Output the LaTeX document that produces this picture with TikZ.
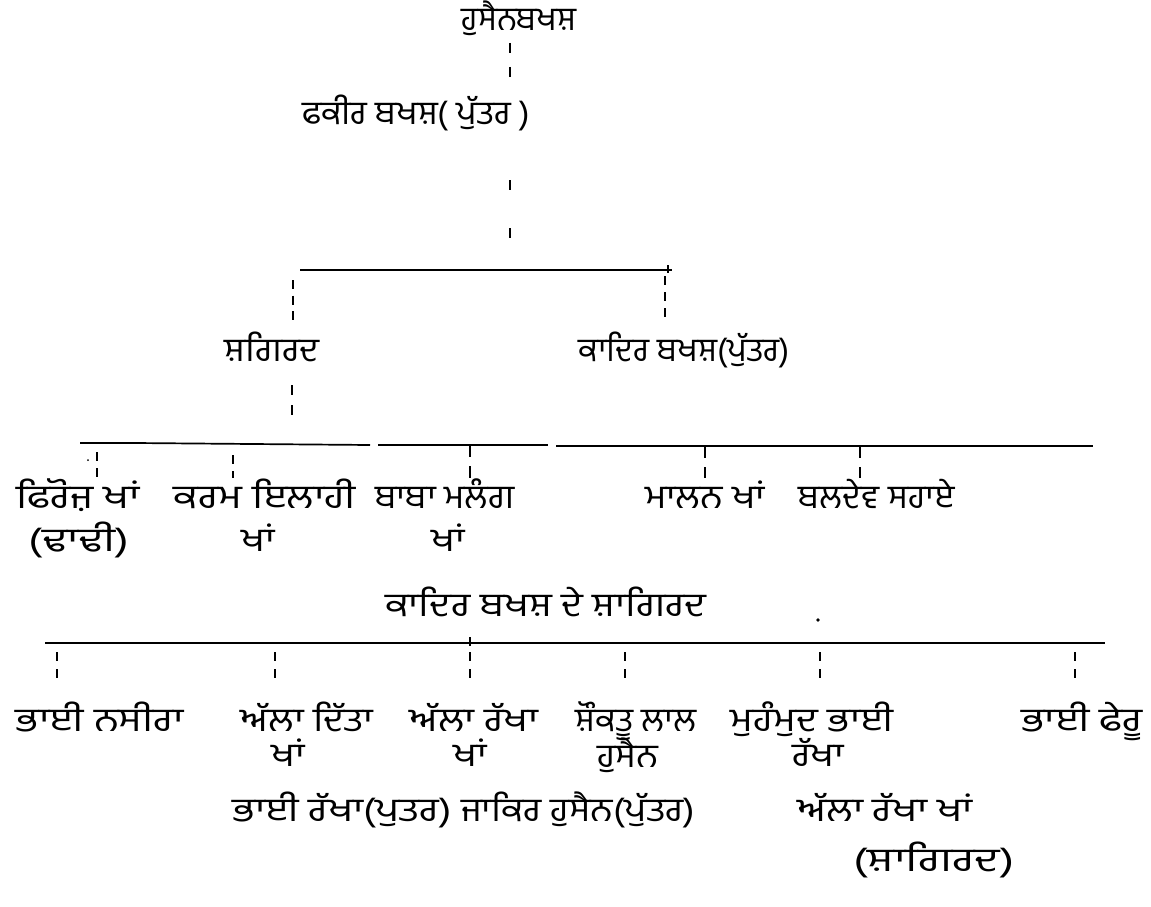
\documentclass[tikz,border=0pt]{standalone}
\usepackage{fontspec}
\usepackage{graphicx}
\newfontfamily\gur[Script=Gurmukhi]{Hind Jalandhar}
\newcommand\gs[2]{\scalebox{#1}[1]{#2}}
\begin{document}
\begin{tikzpicture}[x=1pt,y=-1pt,
  lbl/.style={inner sep=0pt,anchor=base,font=\gur\fontsize{33}{38}\selectfont},
  tk/.style={line width=2.8pt},
  bar/.style={line width=1.7pt}]
\useasboundingbox[fill=white] (0,0) rectangle (1151,907);
% generation 1
\node[lbl] (husain) at (519,31) {ਹੁਸੈਨਬਖਸ਼};
\node[lbl] (fakir) at (416,124) {\gs{1.04}{ਫਕੀਰ ਬਖਸ਼( ਪੁੱਤਰ )}};
\node[lbl] (shagird) at (272,361) {\gs{1.1}{ਸ਼ਗਿਰਦ}};
\node[lbl] (qadir) at (684,361) {ਕਾਦਿਰ ਬਖਸ਼(ਪੁੱਤਰ)};
% row A
\node[lbl] (firoz) at (78,508) {\gs{1.25}{ਫਿਰੋਜ਼ ਖਾਂ}};
\node[lbl] (firozb) at (79,551) {\gs{1.35}{(ਢਾਢੀ)}};
\node[lbl] (karam) at (265,508) {\gs{1.25}{ਕਰਮ ਇਲਾਹੀ}};
\node[lbl] (karamb) at (258,551) {\gs{1.15}{ਖਾਂ}};
\node[lbl] (baba) at (445,508) {\gs{1.07}{ਬਾਬਾ ਮਲੰਗ}};
\node[lbl] (babab) at (448,551) {\gs{1.15}{ਖਾਂ}};
\node[lbl] (malan) at (705,508) {\gs{1.13}{ਮਾਲਨ ਖਾਂ}};
\node[lbl] (baldev) at (876,508) {\gs{1.05}{ਬਲਦੇਵ ਸਹਾਏ}};
% disciples of Qadir Bakhsh
\node[lbl] (title) at (546,616) {\gs{1.2}{ਕਾਦਿਰ ਬਖਸ਼ ਦੇ ਸ਼ਾਗਿਰਦ}};
\fill (818,620) circle (1.8pt);
\node[lbl] (nasira) at (100,731) {\gs{1.25}{ਭਾਈ ਨਸੀਰਾ}};
\node[lbl] (ditta) at (307,731) {\gs{1.17}{ਅੱਲਾ ਦਿੱਤਾ}};
\node[lbl] (dittab) at (288,766) {\gs{1.15}{ਖਾਂ}};
\node[lbl] (rakha) at (474,731) {\gs{1.2}{ਅੱਲਾ ਰੱਖਾ}};
\node[lbl] (rakhab) at (470,766) {\gs{1.15}{ਖਾਂ}};
\node[lbl] (shaukat) at (636,731) {\gs{1.05}{ਸ਼ੌਕਤੂ ਲਾਲ}};
\node[lbl] (shaukatb) at (628,767) {\gs{1.1}{ਹੁਸੈਨ}};
\node[lbl] (muhammad) at (812,731) {\gs{1.2}{ਮੁਹੰਮੁਦ ਭਾਈ}};
\node[lbl] (muhammadb) at (818,766) {\gs{1.15}{ਰੱਖਾ}};
\node[lbl] (pheru) at (1082,731) {\gs{1.25}{ਭਾਈ ਫੇਰੂ}};
% descendants
\node[lbl] (bhairakha) at (342,821) {\gs{1.22}{ਭਾਈ ਰੱਖਾ(ਪੁਤਰ)}};
\node[lbl] (zakir) at (578,821) {\gs{1.13}{ਜਾਕਿਰ ਹੁਸੈਨ(ਪੁੱਤਰ)}};
\node[lbl] (allarakha) at (885,821) {\gs{1.22}{ਅੱਲਾ ਰੱਖਾ ਖਾਂ}};
\node[lbl] (allarakhab) at (934,871) {\gs{1.4}{(ਸ਼ਾਗਿਰਦ)}};
% connectors: Husain -> Fakir
\coordinate (c0) at (510,43);
\coordinate (c0e) at (510,77);
\draw[tk,dash pattern=on 10pt off 14pt] (c0) -- (c0e);
% Fakir -> bar 1
\coordinate (c1) at (510,180);
\coordinate (c1e) at (510,238);
\draw[tk,dash pattern=on 10pt off 38pt] (c1) -- (c1e);
\coordinate (b1l) at (300,270);
\coordinate (b1r) at (672,270);
\draw[bar] (b1l) -- (b1r);
\draw[line width=1.7pt] (668,265) -- (668,273);
\coordinate (s1) at (293,280);
\coordinate (s1e) at (293,320);
\draw[tk,dash pattern=on 9pt off 6.5pt] (s1) -- (s1e);
\coordinate (q1) at (665,276);
\coordinate (q1e) at (665,320);
\draw[tk,dash pattern=on 9pt off 7pt] (q1) -- (q1e);
% Shagird -> bar 2
\coordinate (s2) at (292,385);
\coordinate (s2e) at (292,415);
\draw[tk,dash pattern=on 10pt off 10pt] (s2) -- (s2e);
\draw[bar] (80,443) -- (135,443) -- (370,445);
\draw[bar] (378,445) -- (548,445);
\draw[bar] (556,446) -- (1093,446);
\coordinate (f1) at (97,452);
\draw[tk,dash pattern=on 9pt off 7pt] (f1) -- (97,478);
\fill (88,460) circle (1pt);
\coordinate (k1) at (233,455);
\draw[tk,dash pattern=on 9pt off 7pt] (k1) -- (233,478);
\coordinate (bb1) at (470,445);
\draw[tk,dash pattern=on 12pt off 9pt] (bb1) -- (470,478);
\coordinate (m1) at (705,445);
\draw[tk,dash pattern=on 13pt off 9pt] (m1) -- (705,478);
\coordinate (bd1) at (860,445);
\draw[tk,dash pattern=on 13pt off 9pt] (bd1) -- (860,478);
% bar 3
\draw[bar] (45,643) -- (1105,643);
\draw[line width=1.7pt] (470,637) -- (470,646);
\foreach \n/\x in {nasira/57,ditta/275,rakha/470,shaukat/625,muhammad/820,pheru/1075}{
  \coordinate (d\n) at (\x,652);
  \draw[tk,dash pattern=on 9pt off 8pt] (d\n) -- (\x,679);
}
\end{tikzpicture}
\end{document}
